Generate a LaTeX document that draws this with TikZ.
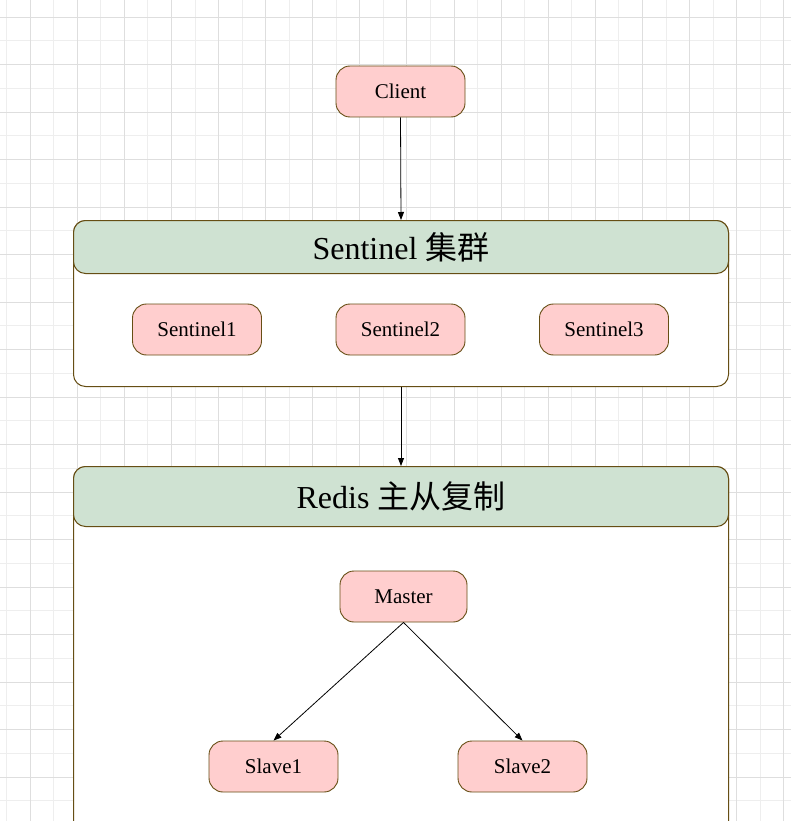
\documentclass[tikz,border=0pt]{standalone}
\usepackage{fontspec}
\setmainfont{Liberation Serif}
\newfontfamily\cjk{Noto Sans CJK SC}
\usetikzlibrary{arrows.meta}
\definecolor{pinkfill}{RGB}{255,206,206}
\definecolor{greenfill}{RGB}{207,226,210}
\definecolor{brownline}{RGB}{102,78,20}
\definecolor{gridminor}{RGB}{238,238,238}
\definecolor{gridmajor}{RGB}{222,222,222}
\tikzset{
  x=1pt, y=-1pt,
  pinkbox/.style={draw=brownline, fill=pinkfill, line width=0.9pt, rounded corners=14pt,
    minimum width=129pt, minimum height=51pt, inner sep=0pt,
    font=\fontsize{21}{25}\selectfont},
  container/.style={draw=brownline, fill=white, line width=1pt, rounded corners=12pt, inner sep=0pt},
  header/.style={draw=brownline, fill=greenfill, line width=1pt, rounded corners=12pt, inner sep=0pt,
    font=\fontsize{32}{38}\selectfont},
  conn/.style={draw=black, line width=0.8pt, -{Triangle[length=8pt,width=6pt]}},
}
\begin{document}
\begin{tikzpicture}
\clip (0,0) rectangle (791,821);
\fill[white] (0,0) rectangle (791,821);
% grid
\foreach \i in {0,...,34} {
  \pgfmathsetmacro{\gx}{6.5+23.55*\i}
  \draw[gridminor, line width=0.8pt] (\gx,0) -- (\gx,821);
}
\foreach \i in {0,...,35} {
  \pgfmathsetmacro{\gy}{-6.7+23.75*\i}
  \draw[gridminor, line width=0.8pt] (0,\gy) -- (791,\gy);
}
\foreach \i in {0,...,16} {
  \pgfmathsetmacro{\gx}{30.05+47.1*\i}
  \draw[gridmajor, line width=0.8pt] (\gx,0) -- (\gx,821);
}
\foreach \i in {0,...,17} {
  \pgfmathsetmacro{\gy}{17.05+47.5*\i}
  \draw[gridmajor, line width=0.8pt] (0,\gy) -- (791,\gy);
}
% client
\node[pinkbox] (client) at (400.5,91.5) {Client};
% sentinel cluster
\node[container, minimum width=655pt, minimum height=166pt, anchor=north west] (sentc) at (73,220) {};
\node[header, minimum width=655pt, minimum height=53pt, anchor=north west] (senth) at (73,220) {\raisebox{2.5pt}{Sentinel {\cjk 集群}}};
\node[pinkbox] (s1) at (197,329.5) {Sentinel1};
\node[pinkbox] (s2) at (400.5,329.5) {Sentinel2};
\node[pinkbox] (s3) at (604,329.5) {Sentinel3};
% redis
\node[container, minimum width=655pt, minimum height=400pt, anchor=north west] (redc) at (73,466) {};
\node[header, minimum width=655pt, minimum height=60pt, anchor=north west] (redh) at (73,466) {\raisebox{2.5pt}{Redis {\cjk 主从复制}}};
\node[pinkbox, minimum width=127pt] (master) at (403.5,596.5) {Master};
\node[pinkbox] (slave1) at (273.5,766.5) {Slave1};
\node[pinkbox] (slave2) at (522.5,766.5) {Slave2};
% connectors
\draw[conn] (client.south) -- (sentc.north);
\draw[conn] (sentc.south) -- (redc.north);
\draw[conn] (master.south) -- (slave1.north);
\draw[conn] (master.south) -- (slave2.north);
\end{tikzpicture}
\end{document}
